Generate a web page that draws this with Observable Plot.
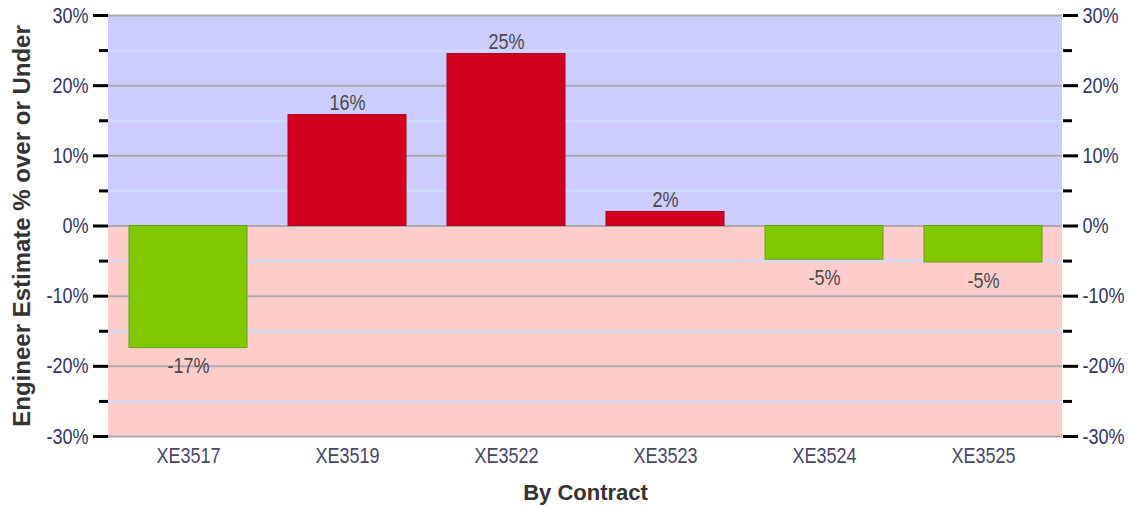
<!DOCTYPE html>
<html>
<head>
<meta charset="utf-8">
<script src="https://cdn.jsdelivr.net/npm/d3@7"></script>
<script src="https://cdn.jsdelivr.net/npm/@observablehq/plot@0.6"></script>
<style>
  html, body { margin: 0; padding: 0; background: #fff; }
  #chart svg { display: block; }
</style>
</head>
<body>
<div id="chart"></div>
<script>
// ---- data ----
const contracts = ["XE3517", "XE3519", "XE3522", "XE3523", "XE3524", "XE3525"];
const pctOverUnder = [-17.4, 15.8, 24.5, 2.0, -4.8, -5.2];
const majorTicks = [-30, -20, -10, 0, 10, 20, 30];
const minorTicks = [-25, -15, -5, 5, 15, 25];
const xTitle = "By Contract";
const yTitle = "Engineer Estimate % over or Under";

const rows = contracts.map((c, i) => ({contract: c, value: pctOverUnder[i]}));
const bands = [{lo: 0, hi: 30, fill: "#ccccff"}, {lo: -30, hi: 0, fill: "#ffcccc"}];

const sans = "'Liberation Sans', Arial, sans-serif";
const red = "#d2001e", redStroke = "#a8001a";
const green = "#80c800", greenStroke = "#6a9e10";

const chart = Plot.plot({
  width: 1129,
  height: 508,
  marginLeft: 108,
  marginRight: 67,
  marginTop: 15,
  marginBottom: 72,
  style: {fontFamily: sans, fontSize: "22px", background: "#fff"},
  x: {domain: contracts, paddingInner: 0.26, paddingOuter: 0.13, label: null},
  y: {domain: [-30, 30], label: null},
  marks: [
    Plot.rect(bands, {y1: "lo", y2: "hi", fill: "fill"}),
    Plot.ruleY(minorTicks, {stroke: "#cddcff", strokeWidth: 2}),
    Plot.ruleY(majorTicks, {stroke: "#ababab", strokeWidth: 2}),
    Plot.barY(rows, {
      x: "contract", y: "value",
      fill: d => d.value >= 0 ? red : green,
      stroke: d => d.value >= 0 ? redStroke : greenStroke,
      strokeWidth: 1
    }),
    Plot.text(rows.filter(d => d.value >= 0), {
      x: "contract", y: "value", text: d => Math.round(d.value) + "%",
      lineAnchor: "middle", dy: -12, fill: "#4a4a4a", fontSize: 22, className: "narrow"
    }),
    Plot.text(rows.filter(d => d.value < 0), {
      x: "contract", y: "value", text: d => Math.round(d.value) + "%",
      lineAnchor: "middle", dy: 18, fill: "#4a4a4a", fontSize: 22, className: "narrow"
    }),
    Plot.axisY({anchor: "left", ticks: majorTicks, tickSize: 15, tickPadding: 5,
      tickFormat: d => d + "%", stroke: "#000", fill: "#333366", strokeWidth: 3, label: null}),
    Plot.axisY({anchor: "left", ticks: minorTicks, tickSize: 9, text: null,
      stroke: "#000", strokeWidth: 3, label: null}),
    Plot.axisY({anchor: "right", ticks: majorTicks, tickSize: 15, tickPadding: 5,
      tickFormat: d => d + "%", stroke: "#000", fill: "#333366", strokeWidth: 3, label: null}),
    Plot.axisY({anchor: "right", ticks: minorTicks, tickSize: 9, text: null,
      stroke: "#000", strokeWidth: 3, label: null}),
    Plot.axisX({tickSize: 0, tickPadding: 11, fill: "#4a4466", label: null}),
    Plot.text([xTitle], {frameAnchor: "bottom", dy: 56, lineAnchor: "middle", textAnchor: "middle",
      fontWeight: "bold", fontSize: 22, fill: "#333", className: "title"}),
    Plot.text([yTitle], {frameAnchor: "left", dx: -86, rotate: -90, lineAnchor: "middle", textAnchor: "middle",
      fontWeight: "bold", fontSize: 24, fill: "#333", className: "title"})
  ]
});
document.getElementById("chart").appendChild(chart);

// The reference uses a condensed face; compress the regular (non-title) texts horizontally.
chart.querySelectorAll("text").forEach(t => {
  if (t.closest(".title")) return;
  const len = t.getComputedTextLength();
  if (len > 0) {
    t.setAttribute("textLength", (len * 0.82).toFixed(1));
    t.setAttribute("lengthAdjust", "spacingAndGlyphs");
  }
});
</script>
</body>
</html>
